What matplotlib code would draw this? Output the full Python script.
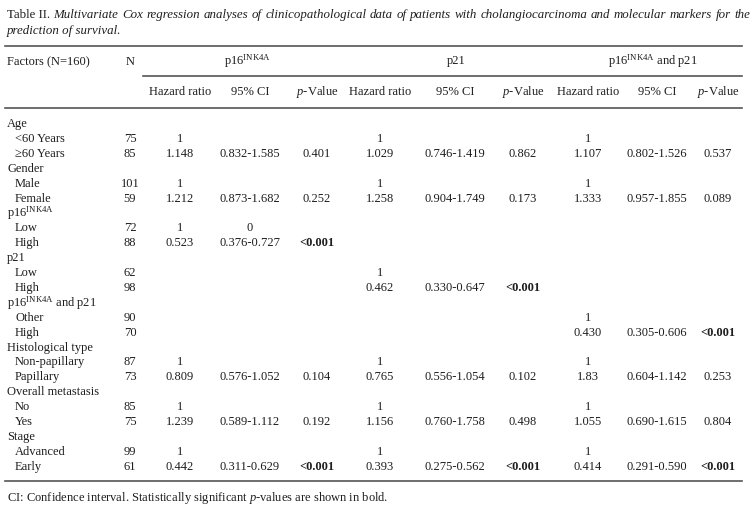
import matplotlib
matplotlib.use("Agg")
import matplotlib.pyplot as plt

plt.rcParams['font.family'] = ['Liberation Serif', 'DejaVu Serif']
plt.rcParams['mathtext.fontset'] = 'custom'
plt.rcParams['mathtext.rm'] = 'Liberation Serif'
plt.rcParams['mathtext.it'] = 'Liberation Serif:italic'
plt.rcParams['mathtext.bf'] = 'Liberation Serif:bold'

# Table content
title_lead = "Table II."
title_words = ("Multivariate Cox regression analyses of clinicopathological data of patients "
               "with cholangiocarcinoma and molecular markers for the").split()
title_line2 = "prediction of survival."
footnote = "CI: Confidence interval. Statistically significant $p$-values are shown in bold."

groups = ["p16$^{\\mathrm{INK4A}}$", "p21", "p16$^{\\mathrm{INK4A}}$ and p21"]
subheads = ["Hazard ratio", "95% CI", "$p$-Value"]

labels = ["Age", "<60 Years", "≥60 Years", "Gender", "Male", "Female",
          "p16$^{\\mathrm{INK4A}}$", "Low", "High", "p21", "Low", "High",
          "p16$^{\\mathrm{INK4A}}$ and p21", "Other", "High",
          "Histological type", "Non-papillary", "Papillary",
          "Overall metastasis", "No", "Yes", "Stage", "Advanced", "Early"]
is_group = [1, 0, 0, 1, 0, 0, 1, 0, 0, 1, 0, 0, 1, 0, 0, 1, 0, 0, 1, 0, 0, 1, 0, 0]
n_vals = ["", "75", "85", "", "101", "59", "", "72", "88", "", "62", "98",
          "", "90", "70", "", "87", "73", "", "85", "75", "", "99", "61"]

p16_hr = ["", "1", "1.148", "", "1", "1.212", "", "1", "0.523", "", "", "",
          "", "", "", "", "1", "0.809", "", "1", "1.239", "", "1", "0.442"]
p16_ci = ["", "", "0.832-1.585", "", "", "0.873-1.682", "", "0", "0.376-0.727", "", "", "",
          "", "", "", "", "", "0.576-1.052", "", "", "0.589-1.112", "", "", "0.311-0.629"]
p16_p = ["", "", "0.401", "", "", "0.252", "", "", "<0.001", "", "", "",
         "", "", "", "", "", "0.104", "", "", "0.192", "", "", "<0.001"]

p21_hr = ["", "1", "1.029", "", "1", "1.258", "", "", "", "", "1", "0.462",
          "", "", "", "", "1", "0.765", "", "1", "1.156", "", "1", "0.393"]
p21_ci = ["", "", "0.746-1.419", "", "", "0.904-1.749", "", "", "", "", "", "0.330-0.647",
          "", "", "", "", "", "0.556-1.054", "", "", "0.760-1.758", "", "", "0.275-0.562"]
p21_p = ["", "", "0.862", "", "", "0.173", "", "", "", "", "", "<0.001",
         "", "", "", "", "", "0.102", "", "", "0.498", "", "", "<0.001"]

both_hr = ["", "1", "1.107", "", "1", "1.333", "", "", "", "", "", "",
           "", "1", "0.430", "", "1", "1.83", "", "1", "1.055", "", "1", "0.414"]
both_ci = ["", "", "0.802-1.526", "", "", "0.957-1.855", "", "", "", "", "", "",
           "", "", "0.305-0.606", "", "", "0.604-1.142", "", "", "0.690-1.615", "", "", "0.291-0.590"]
both_p = ["", "", "0.537", "", "", "0.089", "", "", "", "", "", "",
          "", "", "<0.001", "", "", "0.253", "", "", "0.804", "", "", "<0.001"]

columns = [p16_hr, p16_ci, p16_p, p21_hr, p21_ci, p21_p, both_hr, both_ci, both_p]

# Layout (pixels)
W, H = 754, 513
FS = 9.0
FS_TITLE = 9.3
TXT = '#1e1e1e'
LINE = '#555555'
col_x = [180, 250, 317, 380, 455, 523, 588, 657, 718]
group_x = [248, 456, 653]
n_x = 130
row0, row_step = 124, 14.9

fig = plt.figure(figsize=(W / 100, H / 100), dpi=100)
ax = fig.add_axes([0, 0, 1, 1])
ax.set_xlim(0, W)
ax.set_ylim(H, 0)
ax.axis('off')

# title, line 1 justified between x=7 and x=750
renderer = fig.canvas.get_renderer()
lead = ax.text(7, 15, title_lead, fontsize=FS_TITLE, color=TXT, va='center')
inv = ax.transData.inverted()


def width_of(t):
    bb = t.get_window_extent(renderer)
    return inv.transform((bb.x1, 0))[0] - inv.transform((bb.x0, 0))[0]


x_start = 7 + width_of(lead)
word_objs = [ax.text(0, 15, w, fontsize=FS_TITLE, color=TXT, va='center', style='italic')
             for w in title_words]
widths = [width_of(t) for t in word_objs]
gap = (750 - x_start - sum(widths)) / len(title_words)
x = x_start + gap
for t, w in zip(word_objs, widths):
    t.set_x(x)
    x += w + gap
ax.text(7, 31, title_line2, fontsize=FS_TITLE, color=TXT, va='center', style='italic')

# rules
ax.plot([5, 742], [46, 46], color=LINE, lw=1.2)
ax.plot([143, 742], [76, 76], color=LINE, lw=1.2)
ax.plot([5, 742], [107.5, 107.5], color=LINE, lw=1.2)
ax.plot([5, 742], [481, 481], color=LINE, lw=1.2)

# header
ax.text(7, 62, "Factors (N=160)", fontsize=FS, color=TXT, va='center')
ax.text(n_x, 62, "N", fontsize=FS, color=TXT, va='center', ha='center')
for gx, g in zip(group_x, groups):
    ax.text(gx, 61, g, fontsize=FS, color=TXT, va='center', ha='center')
for i, cx in enumerate(col_x):
    ax.text(cx, 92, subheads[i % 3], fontsize=FS, color=TXT, va='center', ha='center')

# body
for r, lab in enumerate(labels):
    y = row0 + r * row_step
    ax.text(7 if is_group[r] else 15, y, lab, fontsize=FS, color=TXT, va='center')
    if n_vals[r]:
        ax.text(n_x, y, n_vals[r], fontsize=FS, color=TXT, va='center', ha='center')
    for cx, col in zip(col_x, columns):
        v = col[r]
        if v:
            ax.text(cx, y, v, fontsize=FS, color=TXT, va='center', ha='center',
                    fontweight='bold' if v.startswith('<') else 'normal')

ax.text(7, 498, footnote, fontsize=FS, color=TXT, va='center')

fig.savefig('out.png', dpi=100)
